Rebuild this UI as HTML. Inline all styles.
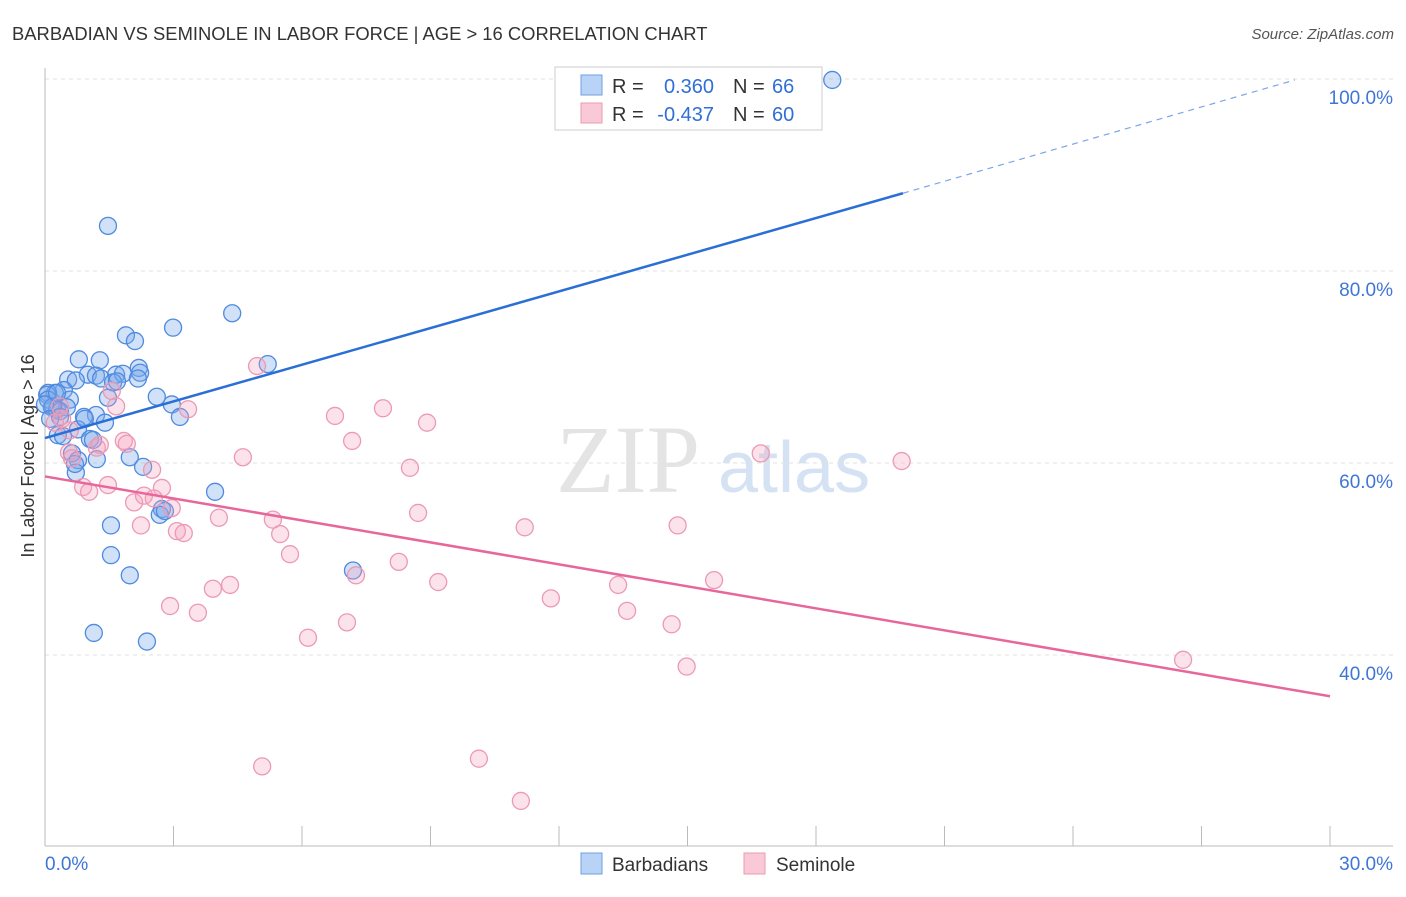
<!DOCTYPE html>
<html><head><meta charset="utf-8"><style>
body{margin:0;background:#fff;font-family:"Liberation Sans",sans-serif}
#c{position:relative;width:1406px;height:892px}
</style></head><body>
<div id="c">
<svg id="s" width="1406" height="892">
<text x="12" y="40" font-size="18.4" fill="#333">BARBADIAN VS SEMINOLE IN LABOR FORCE | AGE &gt; 16 CORRELATION CHART</text>
<text x="1394" y="39" font-size="15" fill="#555" font-style="italic" text-anchor="end">Source: ZipAtlas.com</text>
<text x="556" y="492" font-size="96" fill="#e4e4e4" font-family="Liberation Serif">ZIP</text>
<text x="718" y="492" font-size="72" fill="#d4e2f3">atlas</text>
<text transform="translate(34,456) rotate(-90)" font-size="18" fill="#333" text-anchor="middle">In Labor Force | Age &gt; 16</text>
<g id="grid"></g><g id="pts"></g><g id="lines"></g>
<g>
<rect x="555" y="67" width="267" height="63" fill="#fff" stroke="#ccc"/>
<rect x="581" y="75" width="21" height="20" fill="#b8d3f5" stroke="#6fa1e3"/>
<rect x="581" y="103" width="21" height="20" fill="#f9c9d8" stroke="#ec9ab3"/>
<text x="612" y="93" font-size="20" fill="#333">R =</text>
<text x="714" y="93" font-size="20" fill="#2f6fd6" text-anchor="end">0.360</text>
<text x="733" y="93" font-size="20" fill="#333">N =</text>
<text x="772" y="93" font-size="20" fill="#2f6fd6">66</text>
<text x="612" y="121" font-size="20" fill="#333">R =</text>
<text x="714" y="121" font-size="20" fill="#2f6fd6" text-anchor="end">-0.437</text>
<text x="733" y="121" font-size="20" fill="#333">N =</text>
<text x="772" y="121" font-size="20" fill="#2f6fd6">60</text>
</g>
<g>
<rect x="581" y="853" width="21" height="21" fill="#b8d3f5" stroke="#6fa1e3"/>
<text x="612" y="871" font-size="19" fill="#333">Barbadians</text>
<rect x="744" y="853" width="21" height="21" fill="#f9c9d8" stroke="#ec9ab3"/>
<text x="776" y="871" font-size="19" fill="#333">Seminole</text>
</g>
</svg></div>
<script>
const yTicks=[40,60,80,100];
const xTickLabels=["0.0%","30.0%"];
const blueX=[18.38,1.47,4.37,2.99,1.89,2.1,5.2,0.79,1.28,2.19,2.22,1.0,1.66,1.82,1.19,1.31,0.54,0.72,1.59,1.68,2.17,0.44,0.23,0.07,0.05,0.58,2.61,1.47,2.96,0.51,0.16,0.28,0.35,1.19,3.15,0.91,1.4,0.77,0.30,0.42,1.05,1.12,0.63,1.98,0.77,1.21,2.29,0.72,3.97,2.73,2.68,1.54,1.54,1.98,7.19,1.14,2.38,0.07,0.19,0,0.28,0.93,0.35,0.12,0.7,2.8];
const blueY=[99.9,84.7,75.6,74.1,73.3,72.7,70.3,70.8,70.7,69.9,69.4,69.2,69.2,69.3,69.1,68.8,68.7,68.6,68.4,68.5,68.8,67.6,67.3,67.3,67.1,66.6,66.9,66.8,66.1,65.8,65.8,65.6,65.4,65.0,64.8,64.8,64.2,63.5,62.9,62.8,62.5,62.4,61.0,60.6,60.3,60.4,59.6,59.0,57.0,55.2,54.6,53.5,50.4,48.3,48.8,42.3,41.4,66.6,65.9,66.1,67.3,64.6,64.8,64.6,59.9,55.0];
const pinkX=[4.95,6.77,7.89,8.92,3.34,1.66,1.56,1.84,1.91,7.17,1.21,0.56,0.63,4.62,8.52,16.71,20.0,2.5,2.73,1.47,0.89,1.03,2.08,2.31,2.54,2.96,2.24,4.06,5.32,5.49,3.08,3.24,8.71,11.2,14.77,5.72,8.26,7.26,15.62,9.18,4.32,3.92,13.38,11.81,2.92,3.57,13.59,7.05,14.63,6.14,14.98,26.57,5.07,10.13,11.11,0.40,0.58,0.23,1.28,0.35];
const pinkY=[70.1,64.9,65.7,64.2,65.6,65.9,67.5,62.3,62.0,62.3,61.6,61.1,60.5,60.6,59.5,61.0,60.2,59.3,57.4,57.7,57.5,57.0,55.9,56.6,56.3,55.3,53.5,54.3,54.1,52.6,52.9,52.7,54.8,53.3,53.5,50.5,49.7,48.3,47.8,47.6,47.3,46.9,47.3,45.9,45.1,44.4,44.6,43.4,43.2,41.8,38.8,39.5,28.4,29.2,24.8,64.6,63.4,64.2,61.9,65.9];
const NS="http://www.w3.org/2000/svg";
const xs=v=>45+v/30*1285, ys=v=>79+(100-v)*9.6;
function mk(t,a,p){const e=document.createElementNS(NS,t);for(const k in a)e.setAttribute(k,a[k]);p.appendChild(e);return e;}
const grid=document.getElementById('grid');
yTicks.forEach(t=>{
 const l=mk('line',{x1:45,x2:1393,y1:ys(t),y2:ys(t),stroke:'#e2e2e2','stroke-dasharray':'4,4'},grid);
 
 
 const tx=mk('text',{x:1393,y:ys(t)+25,'font-size':19,fill:'#3f76d6','text-anchor':'end'},grid);
 tx.textContent=t.toFixed(1)+'%';
 
 
});
mk('line',{x1:45,x2:45,y1:68,y2:846,stroke:'#bbb'},grid);
mk('line',{x1:45,x2:1393,y1:846,y2:846,stroke:'#bbb'},grid);
for(let i=1;i<=10;i++){mk('line',{x1:xs(i*3),x2:xs(i*3),y1:826,y2:846,stroke:'#bbb'},grid);}
const xl0=mk('text',{x:45,y:870,'font-size':19,fill:'#3f76d6'},grid);xl0.textContent=xTickLabels[0];


const xl1=mk('text',{x:1393,y:870,'font-size':19,fill:'#3f76d6','text-anchor':'end'},grid);xl1.textContent=xTickLabels[1];


const pts=document.getElementById('pts');
blueX.forEach((x,i)=>{const c=mk('circle',{cx:xs(x),cy:ys(blueY[i]),r:8.5,fill:'rgba(120,170,235,0.35)',stroke:'#4f8ae0','stroke-width':1.3},pts);
 
 });
pinkX.forEach((x,i)=>{const c=mk('circle',{cx:xs(x),cy:ys(pinkY[i]),r:8.5,fill:'rgba(245,160,190,0.3)',stroke:'#ec9ab3','stroke-width':1.3},pts);
 
 });
const L=document.getElementById('lines');
const b1=mk('line',{x1:xs(0),y1:ys(62.6),x2:xs(20.03),y2:ys(88.1),stroke:'#2a6fd6','stroke-width':2.5},L);


const b2=mk('line',{x1:xs(20.03),y1:ys(88.1),x2:xs(29.18),y2:ys(99.9),stroke:'#7aa6e6','stroke-width':1.2,'stroke-dasharray':'6,5'},L);


const p1=mk('line',{x1:xs(0),y1:ys(58.6),x2:xs(30),y2:ys(35.7),stroke:'#e8679a','stroke-width':2.5},L);


</script>
</body></html>
